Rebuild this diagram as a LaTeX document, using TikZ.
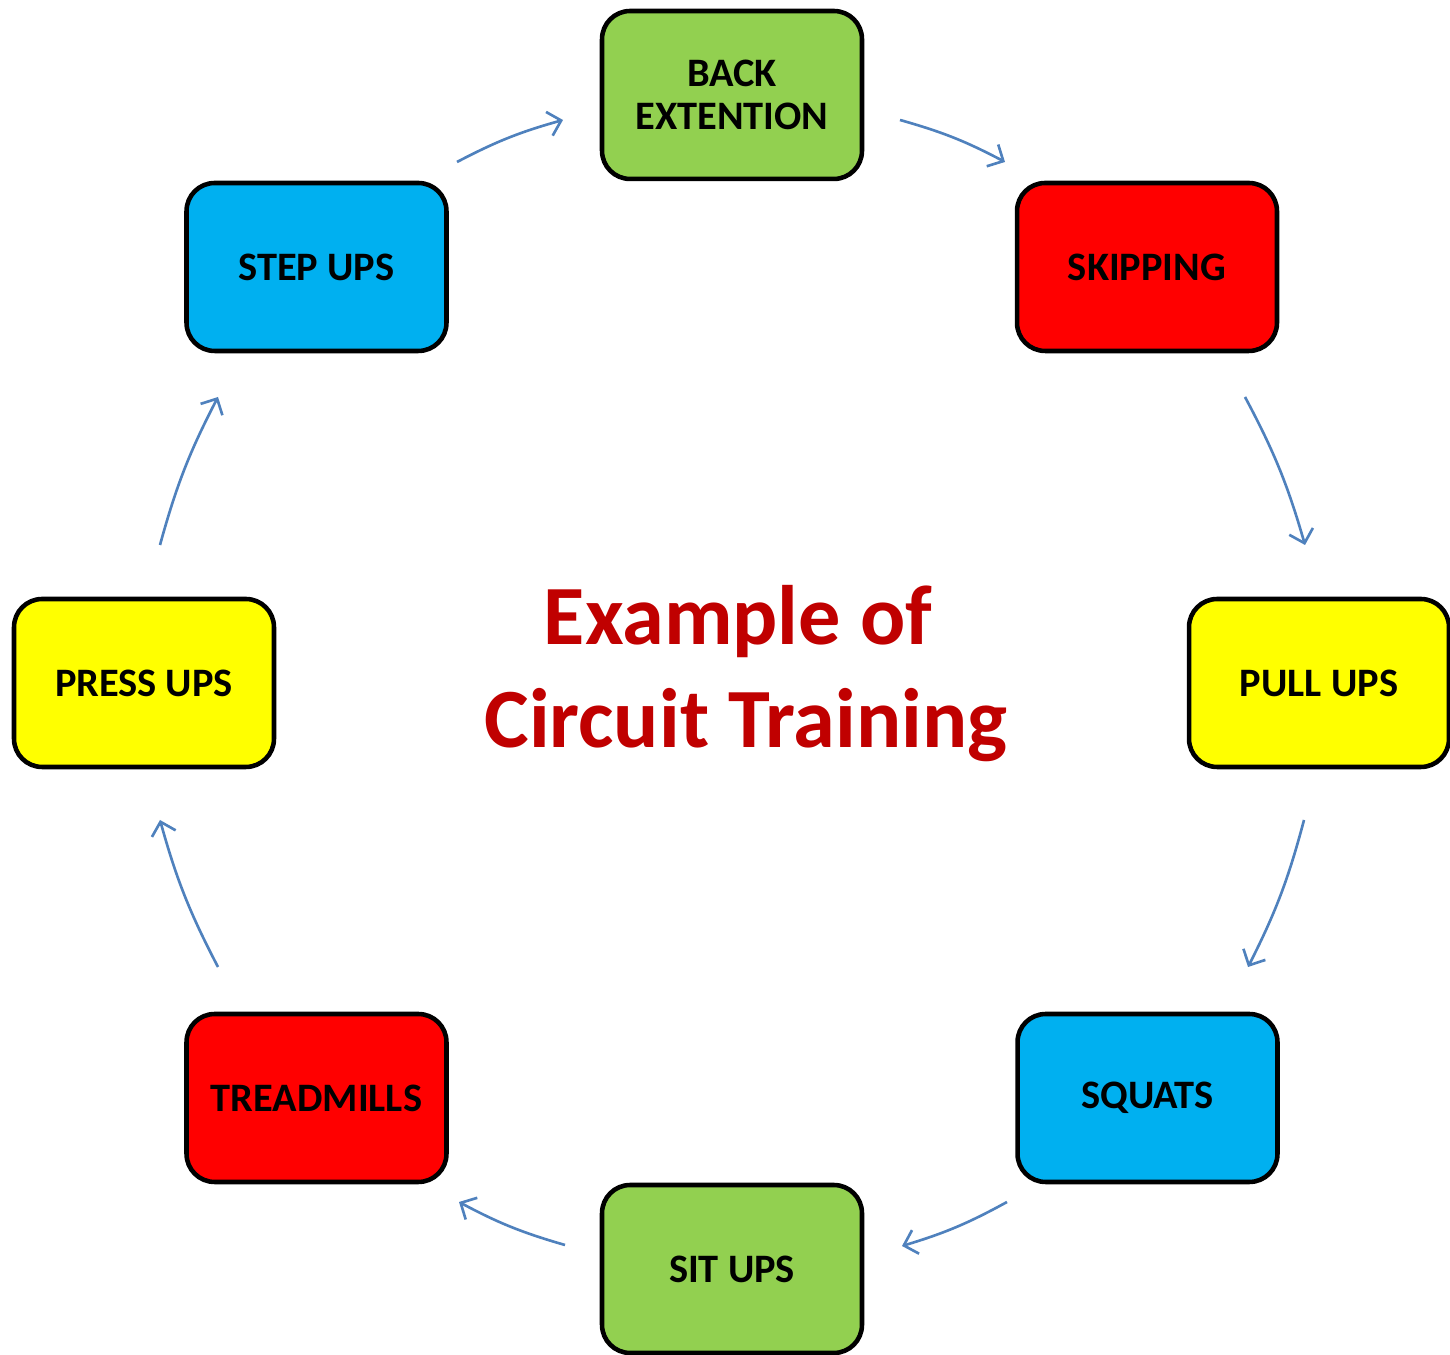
\documentclass[tikz,border=0pt]{standalone}
\usepackage{fontspec}
\setmainfont{Carlito}
\usetikzlibrary{arrows.meta}
\definecolor{bgreen}{HTML}{92D050}
\definecolor{bred}{HTML}{FF0000}
\definecolor{byellow}{HTML}{FFFF00}
\definecolor{bblue}{HTML}{00B0F0}
\definecolor{arrowblue}{HTML}{4F81BD}
\definecolor{titlered}{HTML}{C00000}
\tikzset{
  stationbox/.style={draw=black, line width=2.6pt, rounded corners=16pt,
    minimum width=5.2cm, minimum height=3.36cm,
    font=\fontsize{23}{24.5}\selectfont\bfseries, align=center, inner sep=0pt},
  flow/.style={draw=arrowblue, line width=1.5pt, -{Straight Barb[length=7pt,width=14pt,line width=1.5pt]}, bend left=6},
  titletext/.style={text=titlered, font=\fontsize{48}{58}\selectfont\bfseries, anchor=base, inner sep=0pt}
}
\begin{document}
\begin{tikzpicture}[x=0.02cm,y=0.02cm]
\useasboundingbox (0,0) rectangle (1450,1355);
% boxes
\node[stationbox, fill=bgreen] (back) at (732,1260) {BACK\\EXTENTION};
\node[stationbox, fill=bred] (skip) at (1147,1088) {SKIPPING};
\node[stationbox, fill=byellow] (pull) at (1319,672) {PULL UPS};
\node[stationbox, fill=bblue] (squat) at (1147.5,257) {SQUATS};
\node[stationbox, fill=bgreen] (sit) at (732,86) {SIT UPS};
\node[stationbox, fill=bred] (tread) at (316.5,257) {TREADMILLS};
\node[stationbox, fill=byellow] (press) at (144,672) {PRESS UPS};
\node[stationbox, fill=bblue] (step) at (316.5,1088) {STEP UPS};
% title
\node[titletext] (t1) at (738,710) {Example of};
\node[titletext] (t2) at (746,607) {Circuit Training};
% arrow end points
\coordinate (a1s) at (457,1193); \coordinate (a1e) at (563,1235);
\coordinate (a2s) at (900,1235); \coordinate (a2e) at (1005,1193);
\coordinate (a3s) at (1245,958); \coordinate (a3e) at (1305,810);
\coordinate (a4s) at (1304,535); \coordinate (a4e) at (1248,388);
\coordinate (a5s) at (1007,153); \coordinate (a5e) at (902,109);
\coordinate (a6s) at (565,110); \coordinate (a6e) at (459,153);
\coordinate (a7s) at (218,388); \coordinate (a7e) at (160,535);
\coordinate (a8s) at (160,810); \coordinate (a8e) at (218,958);
\draw[flow] (a1s) to (a1e);
\draw[flow] (a2s) to (a2e);
\draw[flow] (a3s) to (a3e);
\draw[flow] (a4s) to (a4e);
\draw[flow] (a5s) to (a5e);
\draw[flow] (a6s) to (a6e);
\draw[flow] (a7s) to (a7e);
\draw[flow] (a8s) to (a8e);
\end{tikzpicture}
\end{document}
